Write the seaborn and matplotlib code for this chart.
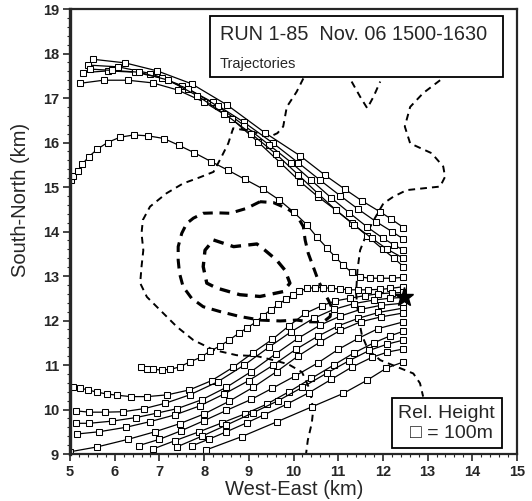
import matplotlib
matplotlib.use("Agg")
import pandas as pd
import matplotlib.pyplot as plt
import seaborn as sns
from matplotlib.patches import Rectangle
from matplotlib.ticker import AutoMinorLocator, MultipleLocator

# ---------------- trajectories (km), one point per 100 m of rel. height ----------------
# upper bundle
a_x = [5.52, 6.23, 6.95, 7.72, 8.52, 9.36, 10.15, 10.70, 11.15, 11.53, 11.94, 12.17, 12.46]
a_y = [17.87, 17.79, 17.61, 17.32, 16.84, 16.22, 15.70, 15.27, 14.95, 14.69, 14.44, 14.29, 14.09]
c_x = [5.41, 6.08, 6.80, 7.50, 8.20, 8.90, 9.55, 10.10, 10.60, 11.05, 11.45, 11.85, 12.20, 12.46]
c_y = [17.74, 17.70, 17.55, 17.28, 16.90, 16.45, 15.98, 15.55, 15.15, 14.80, 14.50, 14.22, 14.00, 13.83]
d_x = [5.30, 5.85, 6.45, 7.05, 7.65, 8.30, 8.90, 9.45, 9.95, 10.40, 10.85, 11.25, 11.65, 12.00, 12.25, 12.46]
d_y = [17.57, 17.61, 17.58, 17.45, 17.20, 16.82, 16.38, 15.95, 15.55, 15.15, 14.75, 14.42, 14.10, 13.85, 13.70, 13.58]
f_x = [5.45, 5.95, 6.55, 7.20, 7.85, 8.45, 9.05, 9.60, 10.10, 10.55, 10.95, 11.35, 11.75, 12.10, 12.46]
f_y = [17.65, 17.62, 17.58, 17.40, 17.05, 16.65, 16.20, 15.75, 15.28, 14.85, 14.48, 14.15, 13.85, 13.60, 13.40]
e_x = [5.22, 5.75, 6.29, 6.85, 7.41, 8.00, 8.62, 9.21, 9.70, 10.15, 10.55, 10.95, 11.30, 11.65, 12.00, 12.25, 12.46]
e_y = [17.33, 17.40, 17.40, 17.34, 17.18, 16.91, 16.53, 16.01, 15.55, 15.12, 14.78, 14.48, 14.20, 13.90, 13.60, 13.40, 13.21]

# the 16.2 km arc
b_x = [5.02, 5.07, 5.17, 5.27, 5.42, 5.61, 5.84, 6.12, 6.43, 6.75, 7.10, 7.43, 7.78, 8.16, 8.53,
       8.92, 9.31, 9.68, 10.01, 10.30, 10.52, 10.74, 10.93, 11.11, 11.30, 11.49, 11.71, 11.94, 12.20, 12.46]
b_y = [15.16, 15.25, 15.36, 15.51, 15.68, 15.85, 16.00, 16.12, 16.17, 16.15, 16.09, 15.94, 15.77, 15.57, 15.38,
       15.17, 14.96, 14.71, 14.43, 14.15, 13.88, 13.64, 13.43, 13.25, 13.08, 12.98, 12.95, 12.95, 12.95, 12.97]

# lower fan
g_x = [6.58, 6.72, 6.86, 7.05, 7.24, 7.46, 7.68, 7.92, 8.13, 8.36, 8.56, 8.77, 8.97, 9.15, 9.32, 9.49,
       9.66, 9.83, 9.98, 10.13, 10.30, 10.48, 10.67, 10.85, 11.04, 11.23, 11.45, 11.67, 11.94, 12.16, 12.46]
g_y = [10.95, 10.92, 10.90, 10.89, 10.90, 10.96, 11.07, 11.17, 11.31, 11.43, 11.56, 11.71, 11.84, 11.96, 12.11, 12.24,
       12.36, 12.48, 12.57, 12.66, 12.72, 12.74, 12.74, 12.72, 12.71, 12.69, 12.69, 12.69, 12.70, 12.72, 12.76]
h_x = [5.07, 5.22, 5.41, 5.60, 5.82, 6.06, 6.36, 6.73, 7.18, 7.67, 8.17, 8.65, 9.10, 9.53, 9.90,
       10.26, 10.63, 10.93, 11.26, 11.60, 11.90, 12.20, 12.46]
h_y = [10.51, 10.48, 10.44, 10.39, 10.35, 10.32, 10.29, 10.29, 10.33, 10.44, 10.65, 10.95, 11.28, 11.58, 11.88,
       12.16, 12.33, 12.44, 12.50, 12.56, 12.60, 12.62, 12.63]
i_x = [5.13, 5.43, 5.78, 6.19, 6.66, 7.13, 7.68, 8.30, 8.90, 9.45, 9.95, 10.45, 10.90, 11.35, 11.80, 12.15, 12.46]
i_y = [9.97, 9.94, 9.94, 9.95, 10.02, 10.14, 10.33, 10.62, 11.00, 11.40, 11.75, 12.05, 12.25, 12.38, 12.46, 12.50, 12.52]
j_x = [5.13, 5.43, 5.95, 6.48, 6.95, 7.40, 7.95, 8.50, 9.05, 9.60, 10.10, 10.60, 11.05, 11.50, 11.95, 12.46]
j_y = [9.69, 9.69, 9.74, 9.82, 9.92, 10.02, 10.22, 10.50, 10.85, 11.25, 11.60, 11.90, 12.10, 12.25, 12.34, 12.39]
k_x = [5.16, 5.65, 6.25, 6.80, 7.35, 7.90, 8.45, 9.00, 9.55, 10.05, 10.55, 11.00, 11.45, 11.90, 12.46]
k_y = [9.45, 9.50, 9.60, 9.73, 9.88, 10.08, 10.35, 10.65, 11.00, 11.35, 11.65, 11.88, 12.05, 12.18, 12.28]
l_x = [5.00, 5.61, 6.30, 6.90, 7.45, 8.00, 8.55, 9.10, 9.62, 10.10, 10.60, 11.05, 11.50, 11.95, 12.46]
l_y = [9.05, 9.16, 9.33, 9.50, 9.68, 9.90, 10.18, 10.50, 10.85, 11.20, 11.52, 11.78, 11.97, 12.08, 12.17]
m_x = [6.54, 7.00, 7.48, 8.00, 8.50, 9.06, 9.53, 10.03, 10.55, 11.00, 11.45, 11.90, 12.46]
m_y = [9.19, 9.33, 9.52, 9.75, 9.98, 10.23, 10.48, 10.75, 11.05, 11.35, 11.60, 11.82, 11.97]
n_x = [6.85, 7.35, 7.89, 8.40, 8.91, 9.40, 9.90, 10.40, 10.90, 11.35, 11.80, 12.15, 12.46]
n_y = [9.11, 9.30, 9.50, 9.70, 9.90, 10.12, 10.40, 10.70, 11.00, 11.27, 11.50, 11.65, 11.76]
o_x = [7.39, 7.95, 8.50, 9.10, 9.66, 10.20, 10.75, 11.25, 11.70, 12.10, 12.46]
o_y = [9.16, 9.40, 9.65, 9.93, 10.20, 10.50, 10.82, 11.10, 11.33, 11.47, 11.56]
p_x = [7.74, 8.10, 8.50, 8.95, 9.34, 9.85, 10.35, 10.85, 11.30, 11.75, 12.10, 12.46]
p_y = [9.19, 9.33, 9.50, 9.70, 9.88, 10.12, 10.38, 10.68, 10.95, 11.17, 11.29, 11.36]
q_x = [8.04, 8.84, 9.62, 10.41, 11.11, 11.65, 12.08, 12.46]
q_y = [9.09, 9.39, 9.72, 10.06, 10.36, 10.66, 10.93, 11.07]

# release point
star_x = [12.47]
star_y = [12.53]

# ---------------- dashed contours ----------------
inner_x = [8.21, 8.66, 9.18, 9.36, 9.62, 9.81, 9.92, 9.77, 9.25, 8.80, 8.28, 8.06, 7.98, 8.02, 8.21]
inner_y = [13.81, 13.66, 13.72, 13.58, 13.36, 13.13, 12.84, 12.65, 12.54, 12.58, 12.73, 12.84, 13.21, 13.58, 13.81]
mid_x = [9.25, 8.95, 8.58, 8.28, 7.98, 7.76, 7.61, 7.50, 7.42, 7.42, 7.45, 7.53, 7.72, 7.98, 8.36, 8.80,
         9.25, 9.70, 10.07, 10.37, 10.67, 10.82, 10.85, 10.78, 10.67, 10.55, 10.44, 10.33, 10.26, 10.22,
         10.07, 9.85, 9.55, 9.25]
mid_y = [14.67, 14.52, 14.41, 14.42, 14.41, 14.30, 14.18, 13.96, 13.66, 13.36, 13.06, 12.76, 12.50, 12.31,
         12.20, 12.09, 12.01, 11.99, 12.01, 11.97, 11.97, 12.09, 12.31, 12.46, 12.65, 12.91, 13.21, 13.51,
         13.81, 14.11, 14.37, 14.52, 14.65, 14.67]
outer_x = [10.22, 10.07, 9.85, 9.77, 9.64, 9.47, 9.32, 9.03, 8.65, 8.54, 8.39, 8.21, 7.91, 7.53, 7.16,
           6.79, 6.63, 6.60, 6.64, 6.60, 6.57, 6.72, 7.01, 7.39, 7.76, 8.21, 8.73, 9.18, 9.47, 9.88,
           10.19, 10.37, 10.44, 10.41, 10.32, 10.28]
outer_y = [17.44, 17.14, 16.80, 16.36, 16.21, 16.13, 16.17, 16.26, 16.32, 15.98, 15.68, 15.34, 15.22, 15.08,
           14.86, 14.56, 14.26, 13.96, 13.58, 13.21, 12.84, 12.53, 12.24, 11.86, 11.56, 11.34, 11.22, 11.20,
           11.13, 11.02, 10.84, 10.44, 9.99, 9.70, 9.31, 9.00]
east_x = [13.28, 12.90, 12.61, 12.49, 12.61, 13.09, 13.35, 13.39, 13.28, 12.90, 12.53, 12.23, 12.01, 11.82,
          11.64, 11.49, 11.43, 11.40, 11.45, 11.53, 11.67, 11.94, 12.31, 12.68, 12.83, 12.90]
east_y = [17.40, 17.11, 16.80, 16.36, 15.98, 15.76, 15.46, 15.23, 15.01, 14.97, 14.93, 14.78, 14.63, 14.30,
          13.96, 13.58, 13.13, 12.61, 12.09, 11.67, 11.34, 11.11, 10.96, 10.81, 10.59, 10.29]
notch_x = [11.30, 11.49, 11.65, 11.79, 11.94]
notch_y = [17.37, 17.03, 16.77, 17.03, 17.37]


def main():
    sns.set_style("ticks")
    plt.rcParams["font.family"] = ["Liberation Sans", "DejaVu Sans"]

    tracks = {
        "a": (a_x, a_y), "c": (c_x, c_y), "d": (d_x, d_y), "f": (f_x, f_y), "e": (e_x, e_y),
        "b": (b_x, b_y), "g": (g_x, g_y), "h": (h_x, h_y), "i": (i_x, i_y), "j": (j_x, j_y),
        "k": (k_x, k_y), "l": (l_x, l_y), "m": (m_x, m_y), "n": (n_x, n_y), "o": (o_x, o_y),
        "p": (p_x, p_y), "q": (q_x, q_y),
    }
    df = pd.concat(
        [pd.DataFrame({"we": xs, "sn": ys, "traj": name}) for name, (xs, ys) in tracks.items()],
        ignore_index=True,
    )

    fig = plt.figure(figsize=(5.32, 5.01), dpi=100)
    ax = fig.add_axes([0.1316, 0.0938, 0.8402, 0.8882])

    # contours first, so trajectories sit on top
    ax.plot(inner_x, inner_y, color="black", lw=2.4, dashes=(3.2, 2.2))
    ax.plot(mid_x, mid_y, color="black", lw=2.2, dashes=(3.2, 2.2))
    ax.plot(outer_x, outer_y, color="black", lw=1.4, dashes=(3.5, 2.6))
    ax.plot(east_x, east_y, color="black", lw=1.4, dashes=(3.5, 2.6))
    ax.plot(notch_x, notch_y, color="black", lw=1.4, dashes=(3.5, 2.6))

    sns.lineplot(
        data=df, x="we", y="sn", units="traj", estimator=None, sort=False,
        color="black", lw=0.9, marker="s", markersize=4.0,
        markerfacecolor="white", markeredgecolor="black", markeredgewidth=0.75,
        legend=False, ax=ax,
    )
    ax.plot(star_x, star_y, marker="*", color="black", markersize=14, ls="none", zorder=5)

    ax.set_xlim(5, 15)
    ax.set_ylim(9, 19)
    ax.xaxis.set_major_locator(MultipleLocator(1))
    ax.yaxis.set_major_locator(MultipleLocator(1))
    ax.xaxis.set_minor_locator(AutoMinorLocator(5))
    ax.yaxis.set_minor_locator(AutoMinorLocator(5))
    ax.tick_params(which="major", length=5, width=1.2, direction="out", labelsize=10.5, pad=3)
    ax.tick_params(which="minor", length=2.5, width=0.8, direction="out")
    for lab in ax.get_xticklabels() + ax.get_yticklabels():
        lab.set_fontweight("bold")
    for side in ["top", "right", "bottom"]:
        ax.spines[side].set_linewidth(1.6)
    ax.spines["left"].set_linewidth(2.4)

    ax.set_xlabel("West-East (km)", fontsize=14.5)
    ax.set_ylabel("South-North (km)", fontsize=14.5)
    ax.xaxis.set_label_coords(0.502, -0.058)
    ax.yaxis.set_label_coords(-0.09, 0.57)

    # title box
    ax.add_patch(Rectangle((0.313, 0.847), 0.656, 0.137, transform=ax.transAxes,
                           fill=True, facecolor="white", edgecolor="black", lw=1.3, zorder=6))
    ax.text(0.335, 0.943, "RUN 1-85  Nov. 06 1500-1630", transform=ax.transAxes,
            fontsize=14.3, va="center", ha="left", zorder=7)
    ax.text(0.335, 0.876, "Trajectories", transform=ax.transAxes,
            fontsize=10.5, va="center", ha="left", zorder=7)

    # height legend box
    ax.add_patch(Rectangle((0.720, 0.0135), 0.246, 0.1125, transform=ax.transAxes,
                           fill=True, facecolor="white", edgecolor="black", lw=1.3, zorder=6))
    ax.text(0.843, 0.091, "Rel. Height", transform=ax.transAxes,
            fontsize=14, va="center", ha="center", zorder=7)
    ax.text(0.853, 0.046, "\u25a1 = 100m", transform=ax.transAxes,
            fontsize=14, va="center", ha="center", zorder=7)

    fig.savefig("out.png", dpi=100)


if __name__ == "__main__":
    main()
